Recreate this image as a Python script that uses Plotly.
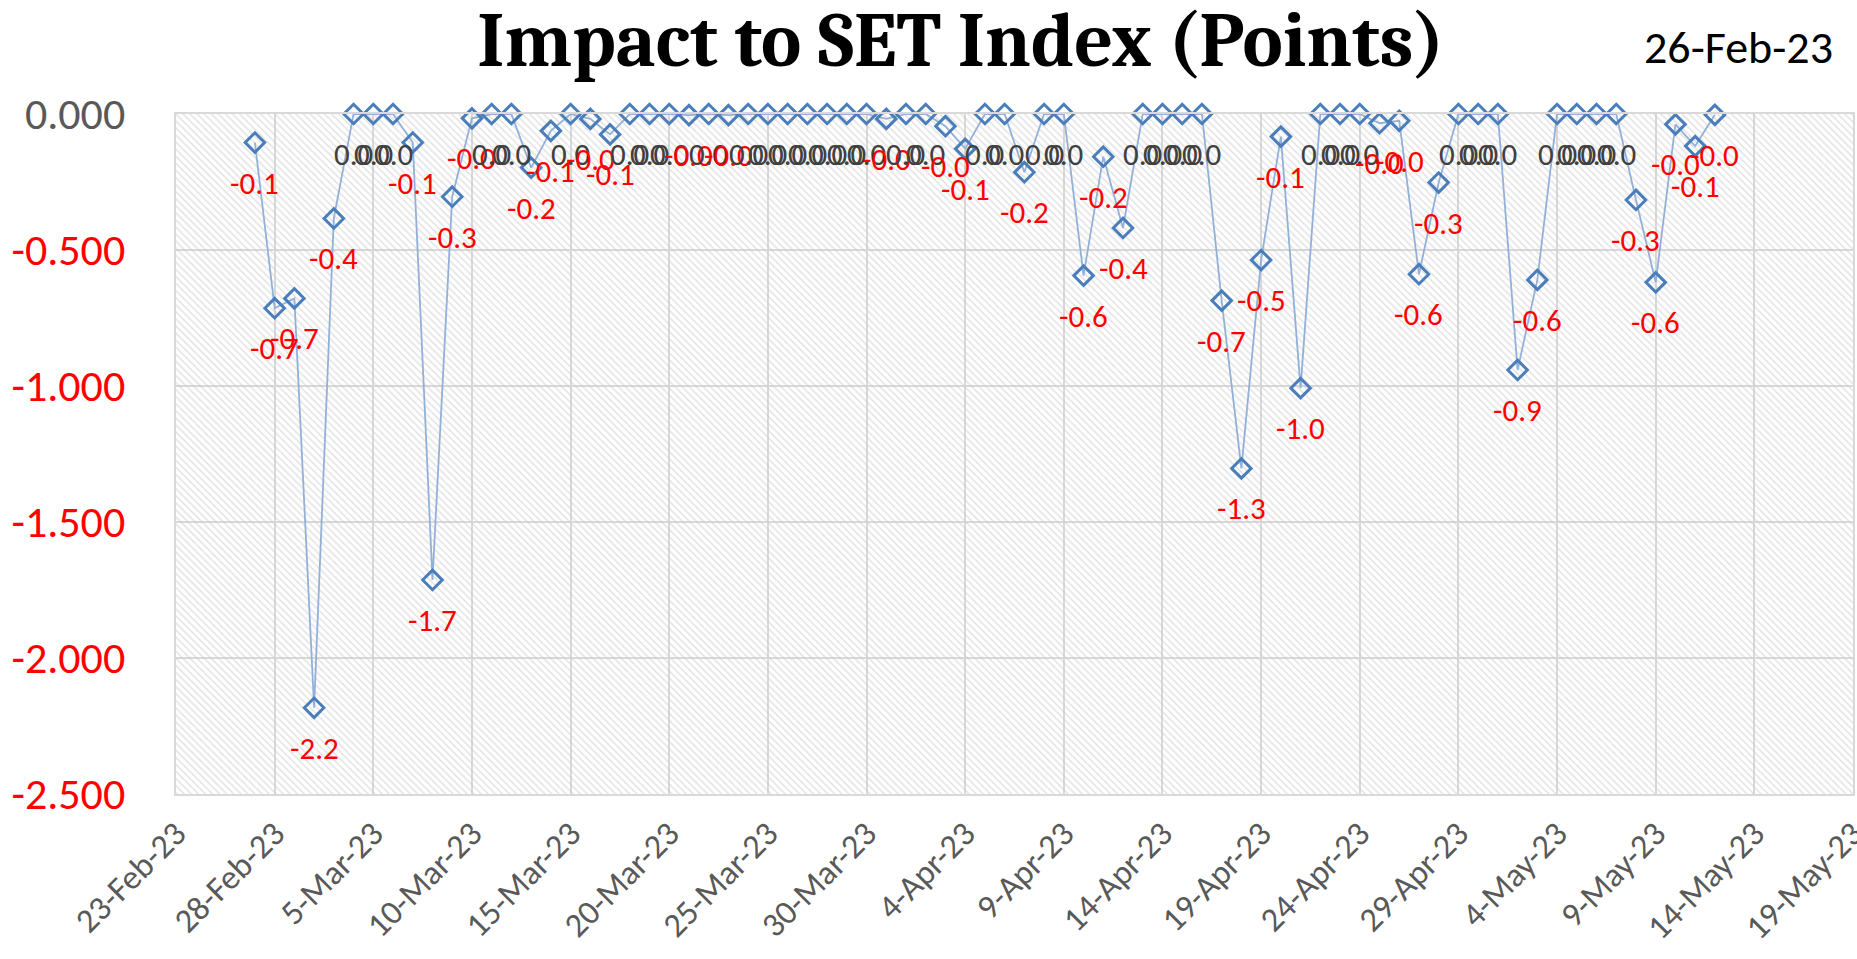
import plotly.graph_objects as go

# ---------------- data ----------------
dates = [
    "2023-02-27", "2023-02-28", "2023-03-01", "2023-03-02", "2023-03-03", "2023-03-04", "2023-03-05",
    "2023-03-06", "2023-03-07", "2023-03-08", "2023-03-09", "2023-03-10", "2023-03-11", "2023-03-12",
    "2023-03-13", "2023-03-14", "2023-03-15", "2023-03-16", "2023-03-17", "2023-03-18", "2023-03-19",
    "2023-03-20", "2023-03-21", "2023-03-22", "2023-03-23", "2023-03-24", "2023-03-25", "2023-03-26",
    "2023-03-27", "2023-03-28", "2023-03-29", "2023-03-30", "2023-03-31", "2023-04-01", "2023-04-02",
    "2023-04-03", "2023-04-04", "2023-04-05", "2023-04-06", "2023-04-07", "2023-04-08", "2023-04-09",
    "2023-04-10", "2023-04-11", "2023-04-12", "2023-04-13", "2023-04-14", "2023-04-15", "2023-04-16",
    "2023-04-17", "2023-04-18", "2023-04-19", "2023-04-20", "2023-04-21", "2023-04-22", "2023-04-23",
    "2023-04-24", "2023-04-25", "2023-04-26", "2023-04-27", "2023-04-28", "2023-04-29", "2023-04-30",
    "2023-05-01", "2023-05-02", "2023-05-03", "2023-05-04", "2023-05-05", "2023-05-06", "2023-05-07",
    "2023-05-08", "2023-05-09", "2023-05-10", "2023-05-11", "2023-05-12",
]
impact = [
    -0.105, -0.714, -0.678, -2.183, -0.384, 0.0, 0.0,
    0.0, -0.105, -1.713, -0.304, -0.016, 0.0, 0.0,
    -0.197, -0.062, 0.0, -0.018, -0.075, 0.0, 0.0,
    0.0, -0.004, 0.0, -0.004, 0.0, 0.0, 0.0,
    0.0, 0.0, 0.0, 0.0, -0.018, 0.0, 0.0,
    -0.045, -0.128, 0.0, 0.0, -0.214, 0.0, 0.0,
    -0.594, -0.157, -0.419, 0.0, 0.0, 0.0, 0.0,
    -0.686, -1.303, -0.537, -0.083, -1.008, 0.0, 0.0,
    0.0, -0.034, -0.025, -0.589, -0.252, 0.0, 0.0,
    0.0, -0.941, -0.610, 0.0, 0.0, 0.0, 0.0,
    -0.316, -0.619, -0.038, -0.118, -0.003,
]

x_tick_dates = [
    "2023-02-23", "2023-02-28", "2023-03-05", "2023-03-10", "2023-03-15", "2023-03-20",
    "2023-03-25", "2023-03-30", "2023-04-04", "2023-04-09", "2023-04-14", "2023-04-19",
    "2023-04-24", "2023-04-29", "2023-05-04", "2023-05-09", "2023-05-14", "2023-05-19",
]
x_tick_labels = [
    "23-Feb-23", "28-Feb-23", "5-Mar-23", "10-Mar-23", "15-Mar-23", "20-Mar-23",
    "25-Mar-23", "30-Mar-23", "4-Apr-23", "9-Apr-23", "14-Apr-23", "19-Apr-23",
    "24-Apr-23", "29-Apr-23", "4-May-23", "9-May-23", "14-May-23", "19-May-23",
]
y_tick_values = [0.0, -0.5, -1.0, -1.5, -2.0, -2.5]

title_text = "Impact to SET Index (Points)"
date_text = "26-Feb-23"

x_range = [x_tick_dates[0], x_tick_dates[-1]]
y_range = [y_tick_values[-1], y_tick_values[0]]

# ---------------- styles ----------------
LABEL_FONT = "Calibri, Carlito, Lato, sans-serif"
GRID = "#D9D9D9"
RED = "#FF0000"
GREY_TXT = "#404040"
AXIS_TXT = "#595959"

fig = go.Figure()

# hatched plot-area background
fig.add_trace(go.Scatter(
    x=[x_range[0], x_range[1], x_range[1], x_range[0], x_range[0]],
    y=[y_range[0], y_range[0], y_range[1], y_range[1], y_range[0]],
    mode="lines", line=dict(width=0), fill="toself",
    fillcolor="rgba(0,0,0,0)",
    fillpattern=dict(shape="\\", fgcolor="#C8C8C8", size=5, solidity=0.3),
    hoverinfo="skip", showlegend=False,
))

fig.add_trace(go.Scatter(
    x=dates, y=impact, mode="lines+markers",
    line=dict(color="#93B1D8", width=1.8),
    marker=dict(symbol="diamond-open", size=15, color="#4A7EBB",
                line=dict(color="#4A7EBB", width=3)),
    cliponaxis=False, showlegend=False,
))

# data labels
for d, v in zip(dates, impact):
    txt = f"{v:.1f}"
    col = RED if v < 0 else GREY_TXT
    fig.add_annotation(
        x=d, y=v, xref="x", yref="y", text=txt, showarrow=False,
        yshift=-40, font=dict(family=LABEL_FONT, size=31, color=col),
        xanchor="center", yanchor="middle",
    )

y_tick_text = []
for t in y_tick_values:
    s = f"{t:.3f}"
    if t < 0:
        y_tick_text.append(f"<span style='color:{RED}'>{s}</span>")
    else:
        y_tick_text.append(f"<span style='color:{AXIS_TXT}'>{s}</span>")

fig.update_layout(
    width=1857, height=959,
    margin=dict(l=176, r=4, t=114, b=165),
    paper_bgcolor="white", plot_bgcolor="white",
    title=dict(text=f"<b>{title_text}</b>", xref="container", yref="container",
               x=961 / 1857, y=1 - 39 / 959, xanchor="center", yanchor="middle",
               font=dict(family="Cambria, 'Liberation Serif', 'DejaVu Serif', serif",
                         size=76, color="black")),
    xaxis=dict(
        type="date", range=x_range, tickvals=x_tick_dates, ticktext=x_tick_labels,
        tickangle=-45, showgrid=True, gridcolor=GRID, gridwidth=2,
        showline=True, linecolor=GRID, linewidth=2, mirror=True,
        ticks="", tickfont=dict(family=LABEL_FONT, size=34, color=AXIS_TXT),
        ticklabelstandoff=4, ticklabeloverflow="allow",
        zeroline=False, automargin=False,
    ),
    yaxis=dict(
        range=y_range, tickvals=y_tick_values, ticktext=y_tick_text,
        showgrid=True, gridcolor=GRID, gridwidth=2,
        showline=True, linecolor=GRID, linewidth=2, mirror=True,
        ticks="", ticklabelstandoff=40,
        tickfont=dict(family=LABEL_FONT, size=44, color=AXIS_TXT),
        zeroline=False, automargin=False,
    ),
    showlegend=False,
)

fig.add_annotation(
    x=(1738 - 176) / 1677, y=(794 - 47) / 680, xref="paper", yref="paper",
    text=date_text, showarrow=False, xanchor="center", yanchor="middle",
    font=dict(family=LABEL_FONT, size=46, color="black"),
)

fig.write_html(
    "out.html",
    config={"displayModeBar": False},
    post_script="document.body.style.margin='0px';document.body.style.overflow='hidden';",
)
